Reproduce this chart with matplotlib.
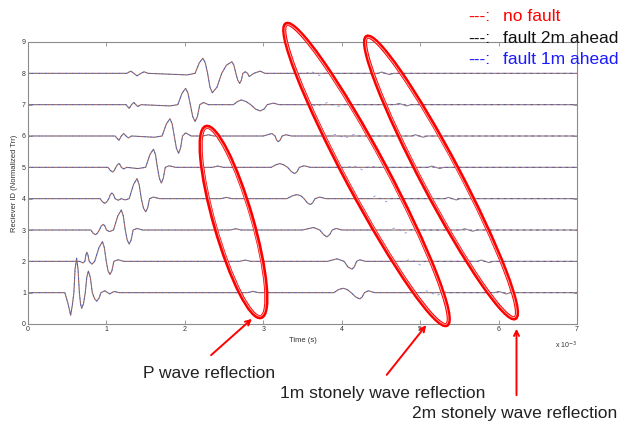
import matplotlib
matplotlib.use('Agg')
import matplotlib.pyplot as plt
import numpy as np
from matplotlib.patches import Ellipse, FancyArrowPatch
from matplotlib.transforms import Affine2D

plt.rcParams['font.family'] = ['Liberation Sans', 'DejaVu Sans']

# Trace samples (time in 1e-3 s, normalized amplitude) common to all three models.
# Index 0 is receiver 1.
trace_pts = [
    [(0, 0), (0.47, 0), (0.51, -0.35), (0.544, -0.72), (0.565, -0.4), (0.585, 0), (0.60, 0.75),
     (0.62, 1.10), (0.638, 0.75), (0.655, 0), (0.67, -0.36), (0.685, -0.50), (0.708, -0.35),
     (0.73, 0), (0.75, 0.5), (0.77, 0.69), (0.795, 0.48), (0.82, 0), (0.85, -0.2), (0.876, -0.27),
     (0.905, -0.18), (0.93, 0), (0.98, 0.06), (1.04, -0.04), (1.10, 0.04), (1.16, 0),
     (2.80, 0), (2.87, 0.04), (2.94, 0),
     (3.90, 0), (3.96, 0.1), (4.02, 0.14), (4.07, 0.1), (4.12, 0), (4.18, -0.14), (4.23, -0.20),
     (4.26, -0.14), (4.29, 0), (4.34, 0.06), (4.42, 0), (7.0, 0)],
    [(0, 0), (0.66, 0), (0.70, -0.05), (0.725, 0), (0.738, 0.2), (0.75, 0.29), (0.765, 0.2),
     (0.78, 0), (0.815, -0.09), (0.85, 0), (0.905, 0.44), (0.95, 0.63), (0.973, 0.44), (0.998, 0),
     (1.02, -0.30), (1.045, -0.42), (1.07, -0.30), (1.095, 0), (1.15, 0.05), (1.22, 0),
     (2.70, 0), (2.77, 0.04), (2.84, 0),
     (3.82, 0), (3.94, 0.08), (4.03, 0), (4.08, -0.18), (4.13, -0.25), (4.16, -0.18), (4.19, 0),
     (4.23, 0.05), (4.30, 0), (7.0, 0)],
    [(0, 0), (0.80, 0), (0.83, -0.1), (0.86, -0.15), (0.885, -0.1), (0.91, 0), (0.935, 0.13),
     (0.96, 0.18), (0.98, 0.13), (1.00, 0), (1.04, -0.05), (1.09, 0), (1.145, 0.45), (1.19, 0.64),
     (1.215, 0.45), (1.24, 0), (1.265, -0.32), (1.29, -0.45), (1.315, -0.32), (1.34, 0),
     (1.39, 0.05), (1.46, 0),
     (2.58, 0), (2.65, 0.04), (2.72, 0),
     (3.50, 0), (3.64, 0.08), (3.72, 0), (3.77, -0.15), (3.81, -0.22), (3.845, -0.15), (3.88, 0),
     (3.93, 0.05), (4.00, 0), (7.0, 0)],
    [(0, 0), (0.92, 0), (0.95, -0.1), (0.98, -0.15), (1.005, -0.1), (1.03, 0), (1.05, 0.13),
     (1.07, 0.18), (1.09, 0.13), (1.11, 0), (1.15, -0.05), (1.19, 0), (1.24, -0.04), (1.29, 0),
     (1.345, 0.45), (1.39, 0.64), (1.417, 0.45), (1.445, 0), (1.472, -0.3), (1.50, -0.42),
     (1.525, -0.3), (1.55, 0), (1.60, 0.05), (1.68, 0),
     (2.46, 0), (2.53, 0.04), (2.60, 0),
     (3.30, 0), (3.37, 0.09), (3.43, 0.13), (3.48, 0.09), (3.52, 0), (3.56, -0.13), (3.60, -0.19),
     (3.63, -0.13), (3.66, 0), (3.72, 0.05), (3.80, 0), (7.0, 0)],
    [(0, 0), (1.02, 0), (1.05, -0.1), (1.08, -0.15), (1.10, -0.1), (1.12, 0), (1.14, 0.08),
     (1.16, 0.12), (1.175, 0.08), (1.19, 0), (1.22, -0.05), (1.26, 0), (1.40, -0.04), (1.50, 0),
     (1.555, 0.41), (1.60, 0.58), (1.625, 0.41), (1.65, 0), (1.675, -0.35), (1.70, -0.50),
     (1.725, -0.35), (1.75, 0), (1.80, 0.05), (1.88, 0),
     (2.35, 0), (2.42, 0.04), (2.49, 0),
     (3.10, 0), (3.16, 0.08), (3.21, 0.12), (3.26, 0.08), (3.31, 0), (3.36, -0.14), (3.40, -0.20),
     (3.43, -0.14), (3.46, 0), (3.52, 0.05), (3.60, 0), (7.0, 0)],
    [(0, 0), (1.11, 0), (1.16, -0.14), (1.19, 0), (1.22, 0.08), (1.25, 0), (1.28, -0.06), (1.32, 0),
     (1.61, -0.04), (1.71, 0), (1.765, 0.39), (1.81, 0.55), (1.838, 0.39), (1.865, 0),
     (1.892, -0.39), (1.92, -0.55), (1.945, -0.39), (1.97, 0), (2.01, 0.10), (2.08, 0),
     (2.23, 0), (2.30, 0.04), (2.37, 0),
     (3.00, 0), (3.11, 0.08), (3.15, 0), (3.17, -0.13), (3.19, -0.18), (3.215, -0.13), (3.24, 0),
     (3.29, 0.04), (3.36, 0), (7.0, 0)],
    [(0, 0), (1.25, 0), (1.29, -0.12), (1.32, 0), (1.35, 0.07), (1.375, 0), (1.40, -0.06), (1.44, 0),
     (1.81, -0.04), (1.91, 0), (1.965, 0.37), (2.01, 0.52), (2.04, 0.37), (2.07, 0), (2.10, -0.38),
     (2.13, -0.54), (2.16, -0.38), (2.19, 0), (2.24, 0.07), (2.30, 0),
     (2.62, 0), (2.67, 0.1), (2.72, 0.15), (2.78, 0.1), (2.84, 0), (2.90, -0.14), (2.96, -0.20),
     (3.01, -0.14), (3.05, 0), (3.13, 0.05), (3.20, 0), (7.0, 0)],
    [(0, 0), (1.26, 0), (1.31, 0.07), (1.35, 0), (1.39, -0.08), (1.44, 0), (1.48, 0.05), (1.53, 0),
     (2.03, -0.05), (2.13, 0), (2.185, 0.34), (2.23, 0.48), (2.26, 0.34), (2.29, 0), (2.32, -0.44),
     (2.35, -0.62), (2.41, -0.44), (2.47, 0), (2.53, 0.26), (2.60, 0.37), (2.625, 0.26), (2.65, 0),
     (2.675, -0.22), (2.70, -0.32), (2.72, -0.22), (2.74, 0), (2.77, 0.05), (2.80, 0),
     (2.82, -0.1), (2.88, 0), (2.96, 0.07), (3.02, 0), (7.0, 0)],
]

# Extra ripple only with the fault 1 m ahead
ripple_1m_pts = [
    [(5.02, 0), (5.08, 0.06), (5.14, 0), (5.21, -0.10), (5.28, 0), (5.33, 0.03), (5.38, 0)],
    [(4.80, 0), (4.87, 0.06), (4.93, 0), (5.00, -0.12), (5.06, 0), (5.11, 0.04), (5.16, 0)],
    [(4.60, 0), (4.67, 0.06), (4.74, 0), (4.81, -0.10), (4.87, 0), (4.92, 0.04), (4.97, 0)],
    [(4.36, 0), (4.43, 0.09), (4.50, 0), (4.57, -0.10), (4.63, 0), (4.68, 0.03), (4.73, 0)],
    [(4.08, 0), (4.14, 0.06), (4.20, 0), (4.26, -0.08), (4.32, 0), (4.38, 0.04), (4.44, 0)],
    [(3.86, 0), (3.92, 0.05), (3.98, 0), (4.04, -0.07), (4.10, 0), (4.16, 0.05), (4.22, 0)],
    [(3.50, 0), (3.56, 0.06), (3.62, 0), (3.68, -0.05), (3.74, 0), (3.82, 0.07), (3.88, 0),
     (3.95, -0.06), (4.02, 0)],
    [(3.55, 0), (3.60, 0.07), (3.66, 0), (3.72, -0.07), (3.78, 0), (3.84, 0.04), (3.90, 0)],
]

# Extra ripple only with the fault 2 m ahead
ripple_2m_pts = [
    [(5.95, 0), (6.00, 0.04), (6.05, 0), (6.10, -0.04), (6.15, 0)],
    [(5.73, 0), (5.78, 0.04), (5.83, 0), (5.88, -0.04), (5.93, 0)],
    [(5.52, 0), (5.57, 0.04), (5.62, 0), (5.67, -0.04), (5.72, 0)],
    [(5.31, 0), (5.36, 0.04), (5.41, 0), (5.46, -0.04), (5.51, 0)],
    [(5.10, 0), (5.15, 0.04), (5.20, 0), (5.25, -0.04), (5.30, 0)],
    [(4.89, 0), (4.94, 0.04), (4.99, 0), (5.04, -0.04), (5.09, 0)],
    [(4.68, 0), (4.73, 0.04), (4.78, 0), (4.83, -0.04), (4.88, 0)],
    [(4.46, 0), (4.51, 0.04), (4.56, 0), (4.61, -0.04), (4.66, 0)],
]

x_ticks = [0, 1, 2, 3, 4, 5, 6, 7]
y_ticks = [0, 1, 2, 3, 4, 5, 6, 7, 8, 9]

legend_labels = ['no fault', 'fault 2m ahead', 'fault 1m ahead']
legend_colors = ['#ff0000', '#111111', '#1a1aff']

notes = ['P wave reflection', '1m stonely wave reflection', '2m stonely wave reflection']


def as_series(*parts):
    pts = sorted(p for part in parts for p in part)
    arr = np.array(pts, dtype=float)
    return arr[:, 0], arr[:, 1]


W, H = 618, 424
fig = plt.figure(figsize=(W / 100, H / 100), dpi=100)
ax = fig.add_axes([28 / W, 1 - 324 / H, 549 / W, 282 / H])

for k in range(8):
    rid = k + 1
    rt, ra = as_series(trace_pts[k])
    bt, ba = as_series(trace_pts[k], ripple_2m_pts[k])
    ut, ua = as_series(trace_pts[k], ripple_1m_pts[k])
    ax.plot(bt, rid + ba, color='#808080', lw=0.8, solid_joinstyle='round')
    ax.plot(rt, rid + ra, color='#e03030', lw=0.6, ls=(0, (3, 5)), alpha=0.5)
    ax.plot(ut, rid + ua, color='#3030e0', lw=0.6, ls=(4, (3, 5)), alpha=0.55)

ax.set_xlim(0, 7)
ax.set_ylim(0, 9)
ax.set_xticks(x_ticks)
ax.set_yticks(y_ticks)
for s in ax.spines.values():
    s.set_color('#8c8c8c')
    s.set_linewidth(0.8)
ax.tick_params(direction='in', top=True, right=True, length=3, width=0.6,
               color='#8c8c8c', labelsize=5, labelcolor='#333333', pad=1.5)
ax.set_xlabel('Time (s)', fontsize=5.5, color='#333333', labelpad=3)
ax.set_ylabel('Reciever ID (Normalized Trr)', fontsize=5.5, color='#333333', labelpad=3)
ax.text(1.0, -0.075, 'x 10$^{-3}$', transform=ax.transAxes, fontsize=5,
        color='#333333', ha='right', va='center')

# overlay drawn in pixel coordinates (y down)
px = Affine2D().scale(1, -1).translate(0, H)

for (cx, cy, L, w, ang) in [(233.5, 222, 198, 38, 73.9),
                            (366.5, 174.5, 341, 41, 61.9),
                            (441, 177.5, 318, 38, 62.2)]:
    fig.add_artist(Ellipse((cx, cy), L, w, angle=ang, transform=px,
                           fc='none', ec='#ff0000', lw=3.0))
    fig.add_artist(Ellipse((cx, cy), L - 2, w - 2, angle=ang, transform=px,
                           fc='none', ec='#ffb3b3', lw=0.6))

for (x0, y0, x1, y1) in [(209, 357, 254, 317), (385, 377, 428, 323), (516.5, 398, 516.5, 326)]:
    fig.add_artist(FancyArrowPatch((x0, y0), (x1, y1), transform=px, arrowstyle='->',
                                   mutation_scale=9, lw=1.4, color='#ff0000'))

for i, (lab, col) in enumerate(zip(legend_labels, legend_colors)):
    yb = [21, 43, 64][i]
    fig.text(468 / W, 1 - yb / H, '---:', color=col, fontsize=12.5, va='baseline')
    fig.text(503 / W, 1 - yb / H, lab, color=col, fontsize=12.5, va='baseline')

for lab, (xl, yb) in zip(notes, [(143, 378), (280, 398), (412, 418)]):
    fig.text(xl / W, 1 - yb / H, lab, color='#222222', fontsize=12.5, va='baseline')

fig.savefig('out.png', dpi=100)
